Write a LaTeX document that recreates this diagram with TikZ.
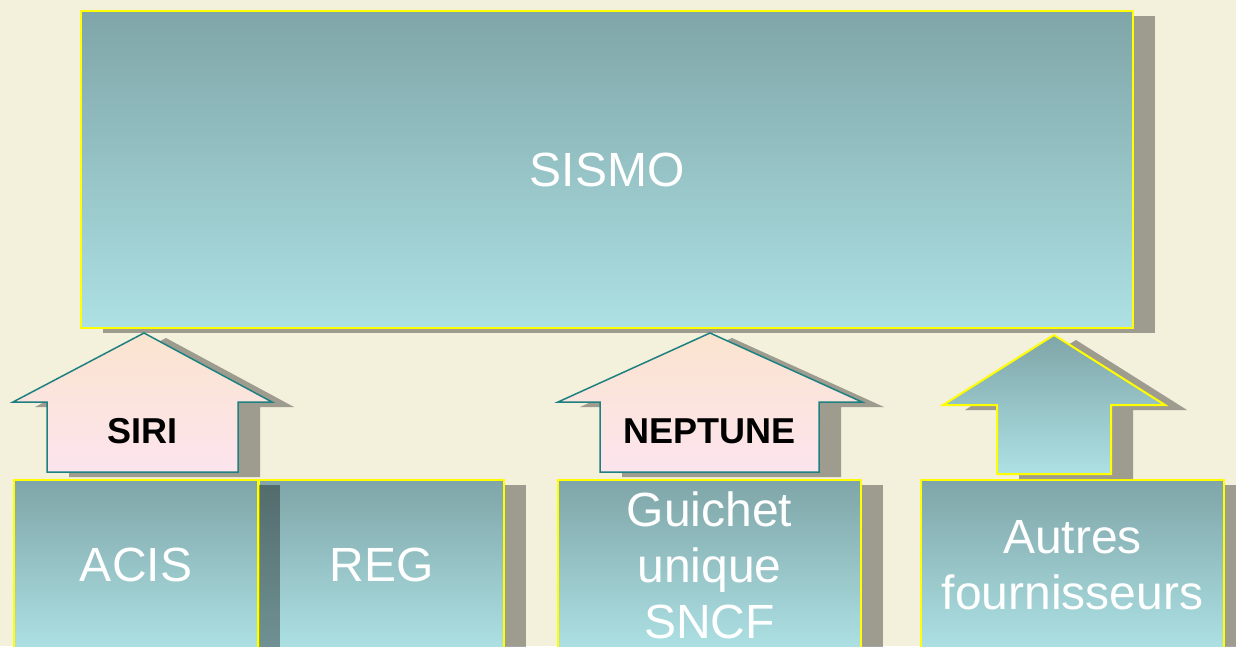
\documentclass[tikz,border=0pt]{standalone}
\usepackage{fontspec}
\setmainfont{Liberation Sans}
\usetikzlibrary{shadows}

\definecolor{bgcream}{RGB}{243,240,220}
\definecolor{tealtop}{RGB}{127,165,168}
\definecolor{tealbot}{RGB}{173,225,228}
\definecolor{peachtop}{RGB}{251,228,206}
\definecolor{pinkbot}{RGB}{252,228,238}
\definecolor{arrowteal}{RGB}{30,128,128}
\definecolor{edgeyellow}{RGB}{255,255,0}

\tikzset{
  castshadow/.style={drop shadow={shadow xshift=22pt, shadow yshift=-5pt, fill=black, opacity=0.35}},
  sysbox/.style={draw=edgeyellow, line width=2pt, top color=tealtop, bottom color=tealbot, castshadow,
    text=white, font=\fontsize{48}{56}\selectfont, align=center, inner sep=0pt},
  pinkarrow/.style={draw=arrowteal, line width=1.5pt, top color=peachtop, bottom color=pinkbot, castshadow},
  tealarrow/.style={draw=edgeyellow, line width=2pt, top color=tealtop, bottom color=tealbot, castshadow},
  protolabel/.style={text=black, font=\fontsize{36}{42}\selectfont\bfseries, inner sep=0pt}
}

\begin{document}
\begin{tikzpicture}[x=1pt, y=-1pt]
    \useasboundingbox (0,0) rectangle (1236,646);
    \clip (0,0) rectangle (1236,646);
    \fill[bgcream] (0,0) rectangle (1236,646);
    % central system
    \node[sysbox, minimum width=1052, minimum height=317] (sismo) at (607,169.5) {SISMO};
    % providers
    \node[sysbox, minimum width=245, minimum height=170] (reg) at (381.5,565) {REG};
    \node[sysbox, minimum width=244, minimum height=170] (acis) at (136,565) {ACIS};
    \node[sysbox, minimum width=303, minimum height=170] (guichet) at (709.5,565) {Guichet\\unique\\SNCF};
    \node[sysbox, minimum width=303, minimum height=170] (autres) at (1072.5,565) {Autres\\fournisseurs};
    % arrows
    \draw[pinkarrow] (144,333) -- (272,402) -- (238,402) -- (238,472) -- (47,472) -- (47,402) -- (13,402) -- cycle;
    \draw[pinkarrow] (710,333) -- (862,402) -- (819,402) -- (819,472) -- (600,472) -- (600,402) -- (558,402) -- cycle;
    \draw[tealarrow] (1054,335) -- (1165,405) -- (1111,405) -- (1111,474) -- (997,474) -- (997,405) -- (943,405) -- cycle;
    % labels
    \node[protolabel] (siri) at (142.5,431) {SIRI};
    \node[protolabel] (neptune) at (709.5,431) {NEPTUNE};
\end{tikzpicture}
\end{document}
